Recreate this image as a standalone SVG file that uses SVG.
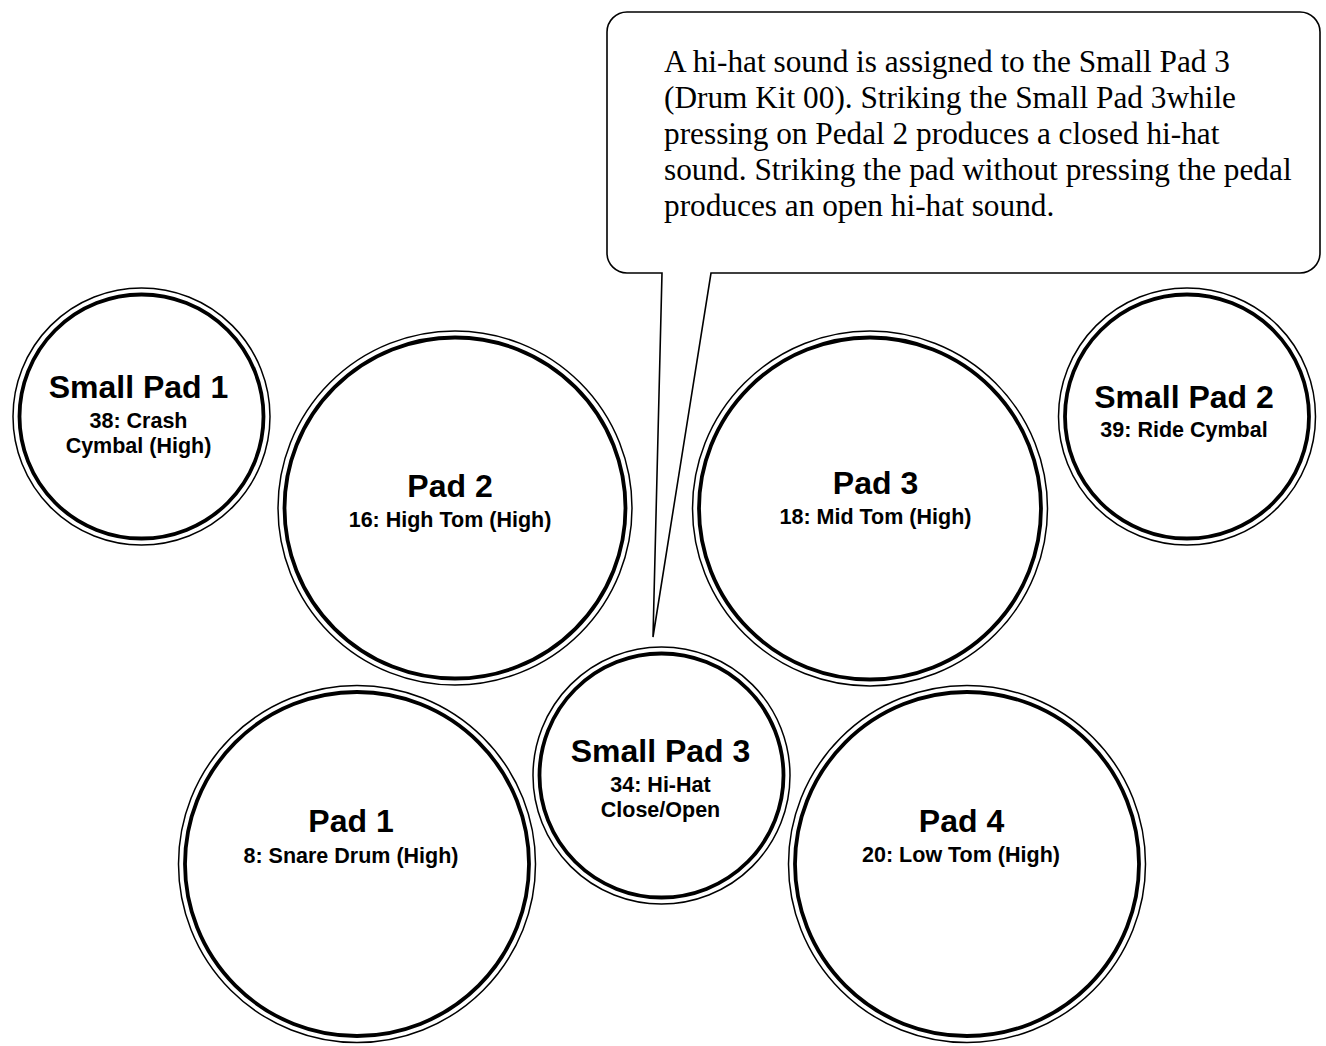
<svg xmlns="http://www.w3.org/2000/svg" width="1326" height="1046" viewBox="0 0 1326 1046">
<style>
.outer{fill:#fff;stroke:#000;stroke-width:1.5}
.inner{fill:none;stroke:#000;stroke-width:3.8}
.title{font-family:"Liberation Sans",Arial,sans-serif;font-weight:bold;font-size:32px;text-anchor:middle;fill:#000}
.sub{font-family:"Liberation Sans",Arial,sans-serif;font-weight:bold;font-size:21.5px;text-anchor:middle;fill:#000}
.note{font-family:"Liberation Serif","Times New Roman",serif;font-size:31.3px;fill:#000}
.callout{fill:#fff;stroke:#000;stroke-width:1.6;stroke-linejoin:miter}
</style>
<rect width="1326" height="1046" fill="#fff"/>

<g id="small-pad-1">
<circle class="outer" cx="141.5" cy="416.5" r="128.5"/>
<circle class="inner" cx="141.5" cy="416.5" r="122"/>
<text class="title" x="138.5" y="398">Small Pad 1</text>
<text class="sub" x="138.5" y="427.5">38: Crash</text>
<text class="sub" x="138.5" y="452.5">Cymbal (High)</text>
</g>

<g id="pad-2">
<circle class="outer" cx="455" cy="508" r="177"/>
<circle class="inner" cx="455" cy="508" r="170.5"/>
<text class="title" x="450" y="496.5">Pad 2</text>
<text class="sub" x="450" y="526.5">16: High Tom (High)</text>
</g>

<g id="pad-3">
<circle class="outer" cx="870" cy="508.5" r="177.5"/>
<circle class="inner" cx="870" cy="508.5" r="171"/>
<text class="title" x="875.5" y="493.5">Pad 3</text>
<text class="sub" x="875.5" y="523.5">18: Mid Tom (High)</text>
</g>

<g id="small-pad-2">
<circle class="outer" cx="1187" cy="416.5" r="128.5"/>
<circle class="inner" cx="1187" cy="416.5" r="122"/>
<text class="title" x="1184" y="407.5">Small Pad 2</text>
<text class="sub" x="1184" y="436.5">39: Ride Cymbal</text>
</g>

<g id="pad-1">
<circle class="outer" cx="357" cy="864" r="178.5"/>
<circle class="inner" cx="357" cy="864" r="172"/>
<text class="title" x="351" y="832">Pad 1</text>
<text class="sub" x="351" y="862.5">8: Snare Drum (High)</text>
</g>

<g id="small-pad-3">
<circle class="outer" cx="661.5" cy="775.5" r="128.5"/>
<circle class="inner" cx="661.5" cy="775.5" r="122"/>
<text class="title" x="660.5" y="761.5">Small Pad 3</text>
<text class="sub" x="660.5" y="792">34: Hi-Hat</text>
<text class="sub" x="660.5" y="817">Close/Open</text>
</g>

<g id="pad-4">
<circle class="outer" cx="967" cy="864" r="178.5"/>
<circle class="inner" cx="967" cy="864" r="172"/>
<text class="title" x="961.5" y="831.5">Pad 4</text>
<text class="sub" x="961" y="861.5">20: Low Tom (High)</text>
</g>

<g id="callout">
<path class="callout" d="M627,12 H1300 A20,20 0 0 1 1320,32 V253 A20,20 0 0 1 1300,273 H711 L653,637 L662,273 H627 A20,20 0 0 1 607,253 V32 A20,20 0 0 1 627,12 Z"/>
<text class="note" x="664" y="72">A hi-hat sound is assigned to the Small Pad 3</text>
<text class="note" x="664" y="108">(Drum Kit 00). Striking the Small Pad 3while</text>
<text class="note" x="664" y="144">pressing on Pedal 2 produces a closed hi-hat</text>
<text class="note" x="664" y="180">sound. Striking the pad without pressing the pedal</text>
<text class="note" x="664" y="216">produces an open hi-hat sound.</text>
</g>
</svg>
